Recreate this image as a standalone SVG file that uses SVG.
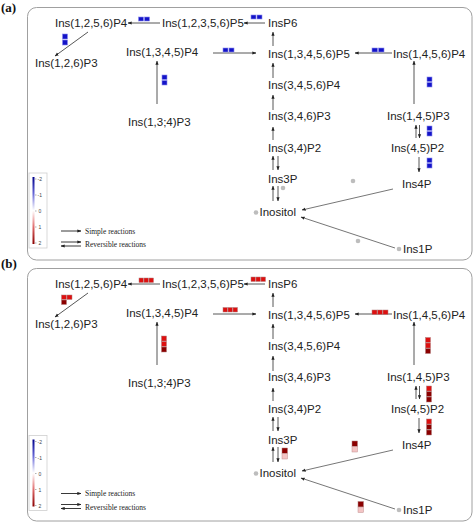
<svg xmlns="http://www.w3.org/2000/svg" width="474" height="523" viewBox="0 0 474 523">
<defs>
<style>
.node text{font-family:"Liberation Sans",Arial,sans-serif;font-size:11.5px;fill:#222}
.conn line{stroke:#444;stroke-width:0.9;marker-end:url(#ah)}
.conn line.long{stroke:#666}
.frame{fill:none;stroke:#a0a0a0;stroke-width:1}
.plab{font-family:"Liberation Serif","Times New Roman",serif;font-weight:bold;font-size:13px;fill:#111}
.leg{font-family:"Liberation Serif","Times New Roman",serif;font-size:7.5px;fill:#222}
.tick{font-family:"Liberation Sans",Arial,sans-serif;font-size:5px;fill:#444}
.bl{fill:#1414c8;stroke:#8a8aee;stroke-width:0.6}
.rd{fill:#dd1010;stroke:#b08080;stroke-width:0.5}
.dr{fill:#8b0000;stroke:#b08080;stroke-width:0.5}
.pk{fill:#f3c4c4;stroke:#c09090;stroke-width:0.5}
.dot{fill:#bdbdbd}
</style>
<marker id="ah" viewBox="0 0 6 6" refX="5.5" refY="3" markerWidth="4" markerHeight="4" orient="auto" markerUnits="userSpaceOnUse"><path d="M0,0.6 L6,3 L0,5.4 z" fill="#222"/></marker>
<linearGradient id="cb" x1="0" y1="0" x2="0" y2="1">
<stop offset="0" stop-color="#00008b"/>
<stop offset="0.25" stop-color="#6a6ad8"/>
<stop offset="0.5" stop-color="#ffffff"/>
<stop offset="0.75" stop-color="#e06a6a"/>
<stop offset="1" stop-color="#8b0000"/>
</linearGradient>
<g id="legend">
<rect x="29" y="173" width="18" height="75" fill="#fff" stroke="#cfcfcf" stroke-width="0.8"/>
<rect x="32.5" y="177" width="2" height="67" fill="url(#cb)"/>
<g stroke="#666" stroke-width="0.5"><line x1="35" y1="179" x2="36.5" y2="179"/><line x1="35" y1="195" x2="36.5" y2="195"/><line x1="35" y1="211" x2="36.5" y2="211"/><line x1="35" y1="227" x2="36.5" y2="227"/><line x1="35" y1="243" x2="36.5" y2="243"/></g>
<text class="tick" x="37.5" y="181">-2</text>
<text class="tick" x="37.5" y="197">-1</text>
<text class="tick" x="38.5" y="213">0</text>
<text class="tick" x="38.5" y="229">1</text>
<text class="tick" x="38.5" y="245">2</text>
<g stroke="#222" stroke-width="0.9"><line x1="61" y1="231" x2="81" y2="231" marker-end="url(#ah)"/><line x1="61" y1="242" x2="81" y2="242" marker-end="url(#ah)"/><line x1="81" y1="246" x2="61" y2="246" marker-end="url(#ah)"/></g>
<text class="leg" x="85" y="233.5">Simple reactions</text>
<text class="leg" x="85" y="247">Reversible reactions</text>
</g>
</defs>

<text class="plab" x="1" y="12">(a)</text>
<text class="plab" x="1" y="268">(b)</text>

<!-- Panel (a) -->
<g id="panel-a">
<rect class="frame" x="27.5" y="7.5" width="444.5" height="252.5" rx="9"/>
<use href="#legend"/>
<g id="a-connectors" class="conn">
<line x1="265" y1="23" x2="244" y2="23"/>
<line x1="160" y1="23" x2="128" y2="23"/>
<line x1="88" y1="32" x2="55" y2="56"/>
<line x1="157" y1="104" x2="157" y2="61"/>
<line x1="213" y1="53" x2="256" y2="53"/>
<line x1="392" y1="53" x2="355" y2="53"/>
<line x1="273" y1="46" x2="273" y2="32"/>
<line x1="273" y1="78" x2="273" y2="63"/>
<line x1="273" y1="110" x2="273" y2="95"/>
<line x1="273" y1="140" x2="273" y2="127"/>
<line x1="273" y1="170" x2="273" y2="156"/>
<line x1="278" y1="156" x2="278" y2="170"/>
<line x1="273" y1="201" x2="273" y2="186"/>
<line x1="278" y1="186" x2="278" y2="201"/>
<line x1="414" y1="104" x2="414" y2="61"/>
<line x1="416" y1="138" x2="416" y2="125"/>
<line x1="419.5" y1="125" x2="419.5" y2="138"/>
<line x1="419" y1="157" x2="419" y2="172"/>
<line class="long" x1="393" y1="189" x2="302" y2="210"/>
<line class="long" x1="395" y1="248" x2="301" y2="217"/>
</g>
<g id="a-ins1256" class="node"><text x="55" y="27">Ins(1,2,5,6)P4</text></g>
<g id="a-ins12356" class="node"><text x="162" y="27">Ins(1,2,3,5,6)P5</text></g>
<g id="a-insp6" class="node"><text x="268" y="27">InsP6</text></g>
<g id="a-ins126" class="node"><text x="35" y="67">Ins(1,2,6)P3</text></g>
<g id="a-ins1345" class="node"><text x="126" y="56">Ins(1,3,4,5)P4</text></g>
<g id="a-ins134" class="node"><text x="128" y="126">Ins(1,3;4)P3</text></g>
<g id="a-ins13456" class="node"><text x="268" y="58">Ins(1,3,4,5,6)P5</text></g>
<g id="a-ins1456" class="node"><text x="393" y="58">Ins(1,4,5,6)P4</text></g>
<g id="a-ins3456" class="node"><text x="268" y="89">Ins(3,4,5,6)P4</text></g>
<g id="a-ins346" class="node"><text x="268" y="120">Ins(3,4,6)P3</text></g>
<g id="a-ins145" class="node"><text x="387" y="120">Ins(1,4,5)P3</text></g>
<g id="a-ins34" class="node"><text x="268" y="152">Ins(3,4)P2</text></g>
<g id="a-ins45" class="node"><text x="391" y="152">Ins(4,5)P2</text></g>
<g id="a-ins3p" class="node"><text x="268" y="183">Ins3P</text></g>
<g id="a-ins4p" class="node"><text x="402" y="188">Ins4P</text></g>
<g id="a-inositol" class="node"><circle class="dot" cx="256" cy="212.5" r="2.3"/><text x="259.5" y="216">Inositol</text></g>
<g id="a-ins1p" class="node"><circle class="dot" cx="399" cy="249" r="2.3"/><text x="403" y="253">Ins1P</text></g>
<g id="a-marks">
<rect class="bl" x="251" y="15" width="5" height="4"/><rect class="bl" x="257" y="15" width="5" height="4"/>
<rect class="bl" x="138.5" y="17" width="5" height="4"/><rect class="bl" x="144.5" y="17" width="5" height="4"/>
<rect class="bl" x="62.5" y="34" width="5" height="5"/><rect class="bl" x="62.5" y="40" width="5" height="5"/>
<rect class="bl" x="162" y="75" width="5" height="4.5"/><rect class="bl" x="162" y="80.5" width="5" height="4.5"/>
<rect class="bl" x="223" y="48" width="5" height="4"/><rect class="bl" x="229" y="48" width="5" height="4"/>
<rect class="bl" x="372" y="48" width="5.5" height="4"/><rect class="bl" x="378.5" y="48" width="5.5" height="4"/>
<rect class="bl" x="427" y="77" width="5" height="4.5"/><rect class="bl" x="427" y="82.5" width="5" height="4.5"/>
<rect class="bl" x="427" y="126" width="5" height="4.5"/><rect class="bl" x="427" y="131.5" width="5" height="4.5"/>
<rect class="bl" x="427" y="158" width="5" height="4.5"/><rect class="bl" x="427" y="163.5" width="5" height="4.5"/>
<circle class="dot" cx="283" cy="188" r="2.3"/>
<circle class="dot" cx="353" cy="181" r="2.3"/>
<circle class="dot" cx="358" cy="241" r="2.3"/>
</g>
</g>

<!-- Panel (b) -->
<g id="panel-b" transform="translate(0,261)">
<rect class="frame" x="27.5" y="7.5" width="444.5" height="252.5" rx="9"/>
<use href="#legend" transform="translate(0,1.5)"/>
<g id="b-connectors" class="conn">
<line x1="265" y1="23" x2="244" y2="23"/>
<line x1="160" y1="23" x2="128" y2="23"/>
<line x1="88" y1="32" x2="55" y2="56"/>
<line x1="157" y1="104" x2="157" y2="61"/>
<line x1="213" y1="53" x2="256" y2="53"/>
<line x1="392" y1="53" x2="355" y2="53"/>
<line x1="273" y1="46" x2="273" y2="32"/>
<line x1="273" y1="78" x2="273" y2="63"/>
<line x1="273" y1="110" x2="273" y2="95"/>
<line x1="273" y1="140" x2="273" y2="127"/>
<line x1="273" y1="170" x2="273" y2="156"/>
<line x1="278" y1="156" x2="278" y2="170"/>
<line x1="273" y1="201" x2="273" y2="186"/>
<line x1="278" y1="186" x2="278" y2="201"/>
<line x1="414" y1="104" x2="414" y2="61"/>
<line x1="416" y1="138" x2="416" y2="125"/>
<line x1="419.5" y1="125" x2="419.5" y2="138"/>
<line x1="419" y1="157" x2="419" y2="172"/>
<line class="long" x1="393" y1="189" x2="302" y2="210"/>
<line class="long" x1="395" y1="248" x2="301" y2="217"/>
</g>
<g id="b-ins1256" class="node"><text x="55" y="27">Ins(1,2,5,6)P4</text></g>
<g id="b-ins12356" class="node"><text x="162" y="27">Ins(1,2,3,5,6)P5</text></g>
<g id="b-insp6" class="node"><text x="268" y="27">InsP6</text></g>
<g id="b-ins126" class="node"><text x="35" y="67">Ins(1,2,6)P3</text></g>
<g id="b-ins1345" class="node"><text x="126" y="56">Ins(1,3,4,5)P4</text></g>
<g id="b-ins134" class="node"><text x="128" y="126">Ins(1,3;4)P3</text></g>
<g id="b-ins13456" class="node"><text x="268" y="58">Ins(1,3,4,5,6)P5</text></g>
<g id="b-ins1456" class="node"><text x="393" y="58">Ins(1,4,5,6)P4</text></g>
<g id="b-ins3456" class="node"><text x="268" y="89">Ins(3,4,5,6)P4</text></g>
<g id="b-ins346" class="node"><text x="268" y="120">Ins(3,4,6)P3</text></g>
<g id="b-ins145" class="node"><text x="387" y="120">Ins(1,4,5)P3</text></g>
<g id="b-ins34" class="node"><text x="268" y="152">Ins(3,4)P2</text></g>
<g id="b-ins45" class="node"><text x="391" y="152">Ins(4,5)P2</text></g>
<g id="b-ins3p" class="node"><text x="268" y="183">Ins3P</text></g>
<g id="b-ins4p" class="node"><text x="402" y="188">Ins4P</text></g>
<g id="b-inositol" class="node"><circle class="dot" cx="256" cy="212.5" r="2.3"/><text x="259.5" y="216">Inositol</text></g>
<g id="b-ins1p" class="node"><circle class="dot" cx="399" cy="249" r="2.3"/><text x="403" y="253">Ins1P</text></g>
<g id="b-marks">
<rect class="rd" x="251" y="16" width="4.5" height="4.5"/><rect class="rd" x="256" y="16" width="4.5" height="4.5"/><rect class="rd" x="261" y="16" width="4.5" height="4.5"/>
<rect class="rd" x="139" y="17" width="4.5" height="4.5"/><rect class="rd" x="144" y="17" width="4.5" height="4.5"/><rect class="rd" x="149" y="17" width="4.5" height="4.5"/>
<rect class="rd" x="61.5" y="34" width="5" height="4.5"/><rect class="rd" x="67" y="34" width="5" height="4.5"/><rect class="dr" x="61.5" y="39" width="5" height="4.5"/>
<rect class="rd" x="161.5" y="75" width="5" height="5"/><rect class="rd" x="161.5" y="80.5" width="5" height="5"/><rect class="dr" x="161.5" y="86" width="5" height="5"/>
<rect class="rd" x="223" y="46.5" width="4.5" height="4.5"/><rect class="rd" x="228" y="46.5" width="4.5" height="4.5"/><rect class="rd" x="233" y="46.5" width="4.5" height="4.5"/>
<rect class="rd" x="372" y="49" width="5" height="4.5"/><rect class="rd" x="377.5" y="49" width="5" height="4.5"/><rect class="rd" x="383" y="49" width="5" height="4.5"/>
<rect class="rd" x="425.5" y="76.5" width="5" height="5"/><rect class="rd" x="425.5" y="82" width="5" height="5"/><rect class="dr" x="425.5" y="87.5" width="5" height="5"/>
<rect class="rd" x="426.5" y="125" width="5" height="5"/><rect class="dr" x="426.5" y="130.5" width="5" height="5"/><rect class="dr" x="426.5" y="136" width="5" height="5"/>
<rect class="rd" x="426.5" y="158" width="5" height="5"/><rect class="dr" x="426.5" y="163.5" width="5" height="5"/><rect class="dr" x="426.5" y="169" width="5" height="5"/>
<rect class="dr" x="282" y="187" width="5.5" height="5.5"/><rect class="pk" x="282" y="192.5" width="5.5" height="5.5"/>
<rect class="dr" x="352" y="180" width="5.5" height="5.5"/><rect class="pk" x="352" y="185.5" width="5.5" height="5.5"/>
<rect class="dr" x="358" y="240.5" width="5.5" height="5.5"/><rect class="pk" x="358" y="246" width="5.5" height="5.5"/>
</g>
</g>
</svg>
